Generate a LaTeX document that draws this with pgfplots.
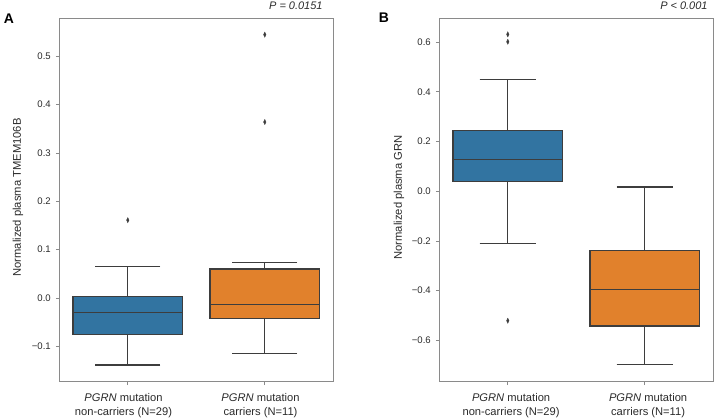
\documentclass[border=0pt]{standalone}
\usepackage{pgfplots}
\pgfplotsset{compat=1.18}
\usepgfplotslibrary{statistics}
\usepackage{fontspec}
\setmainfont{Liberation Sans}
\definecolor{sbblue}{HTML}{3274A1}
\definecolor{sborange}{HTML}{E1812C}
\definecolor{sbline}{HTML}{3D3D3D}
\definecolor{frame}{HTML}{8A8A8A}
\definecolor{ticktext}{HTML}{2A2A2A}
\pgfplotsset{
  common/.style={
    scale only axis,
    anchor=south west,
    width=274bp, height=363.4bp,
    xmin=-0.5, xmax=1.5,
    xtick={0,1},
    xticklabels={{\textit{PGRN} mutation\\non-carriers (N=29)},{\textit{PGRN} mutation\\carriers (N=11)}},
    xticklabel style={align=center, font=\fontsize{11.2}{14.3}\selectfont, text=ticktext, yshift=-4.5bp},
    yticklabel style={font=\fontsize{9.6}{11}\selectfont, text=ticktext, xshift=-1.5bp},
    tick align=outside,
    major tick length=3.5bp,
    xtick pos=lower, ytick pos=left,
    axis line style={frame, line width=1.1bp},
    every tick/.style={frame, line width=0.9bp},
    boxplot/draw direction=y,
  },
  bx/.style={draw=sbline, line width=1.2bp, fill=#1, solid,
    mark=diamond*, mark size=2.6bp,
    mark options={fill=sbline, draw=sbline, xscale=0.65, line width=0.3bp}},
}
\begin{document}
\begin{tikzpicture}
\path[use as bounding box] (0,0) rectangle (718bp,419bp);
% Panel A
\begin{axis}[common,
  at={(59.3bp,37.3bp)},
  ymin=-0.173, ymax=0.5785,
  ytick={-0.1,0,0.1,0.2,0.3,0.4,0.5},
  yticklabels={−0.1,0.0,0.1,0.2,0.3,0.4,0.5},
  xticklabel style={xshift=-4.3bp},
  ylabel={Normalized plasma TMEM106B},
  every axis y label/.style={at={(axis description cs:-0.1507,0.507)}, rotate=90, anchor=center,
    font=\fontsize{11.25}{13}\selectfont, text=ticktext},
]
\addplot[bx=sbblue, boxplot prepared={draw position=0, median=-0.0296, upper quartile=0.0027, lower quartile=-0.075, upper whisker=0.0647, lower whisker=-0.1386, box extend=0.8, whisker extend=0.475}]
  table[row sep=\\, y index=0] {y\\ 0.161\\};
\addplot[bx=sborange, boxplot prepared={draw position=1, median=-0.013, upper quartile=0.060, lower quartile=-0.0428, upper whisker=0.0738, lower whisker=-0.1144, box extend=0.8, whisker extend=0.475}]
  table[row sep=\\, y index=0] {y\\ 0.5446\\ 0.364\\};
\end{axis}
% Panel B
\begin{axis}[common,
  at={(439.3bp,37.3bp)},
  ymin=-0.7665, ymax=0.6965,
  ytick={-0.6,-0.4,-0.2,0,0.2,0.4,0.6},
  yticklabels={−0.6,−0.4,−0.2,0.0,0.2,0.4,0.6},
  xticklabel style={xshift=3.3bp},
  ylabel={Normalized plasma GRN},
  every axis y label/.style={at={(axis description cs:-0.147,0.507)}, rotate=90, anchor=center,
    font=\fontsize{11.25}{13}\selectfont, text=ticktext},
]
\addplot[bx=sbblue, boxplot prepared={draw position=0, median=0.127, upper quartile=0.2456, lower quartile=0.0386, upper whisker=0.451, lower whisker=-0.211, box extend=0.8, whisker extend=0.41}]
  table[row sep=\\, y index=0] {y\\ 0.632\\ 0.602\\ -0.521\\};
\addplot[bx=sborange, boxplot prepared={draw position=1, median=-0.3945, upper quartile=-0.2375, lower quartile=-0.542, upper whisker=0.0173, lower whisker=-0.698, box extend=0.8, whisker extend=0.41}]
  table[row sep=\\, y index=0] {y\\};
\end{axis}
\node[font=\fontsize{14}{16}\selectfont\bfseries, anchor=center] at (9bp,400.5bp) {A};
\node[font=\fontsize{14}{16}\selectfont\bfseries, anchor=center] at (384bp,401bp) {B};
\node[font=\fontsize{11}{13}\selectfont\itshape, anchor=base east, inner sep=0pt, text=ticktext] at (322.7bp,409.5bp) {P = 0.0151};
\node[font=\fontsize{11}{13}\selectfont\itshape, anchor=base east, inner sep=0pt, text=ticktext] at (707.7bp,409.5bp) {P < 0.001};
\end{tikzpicture}
\end{document}
